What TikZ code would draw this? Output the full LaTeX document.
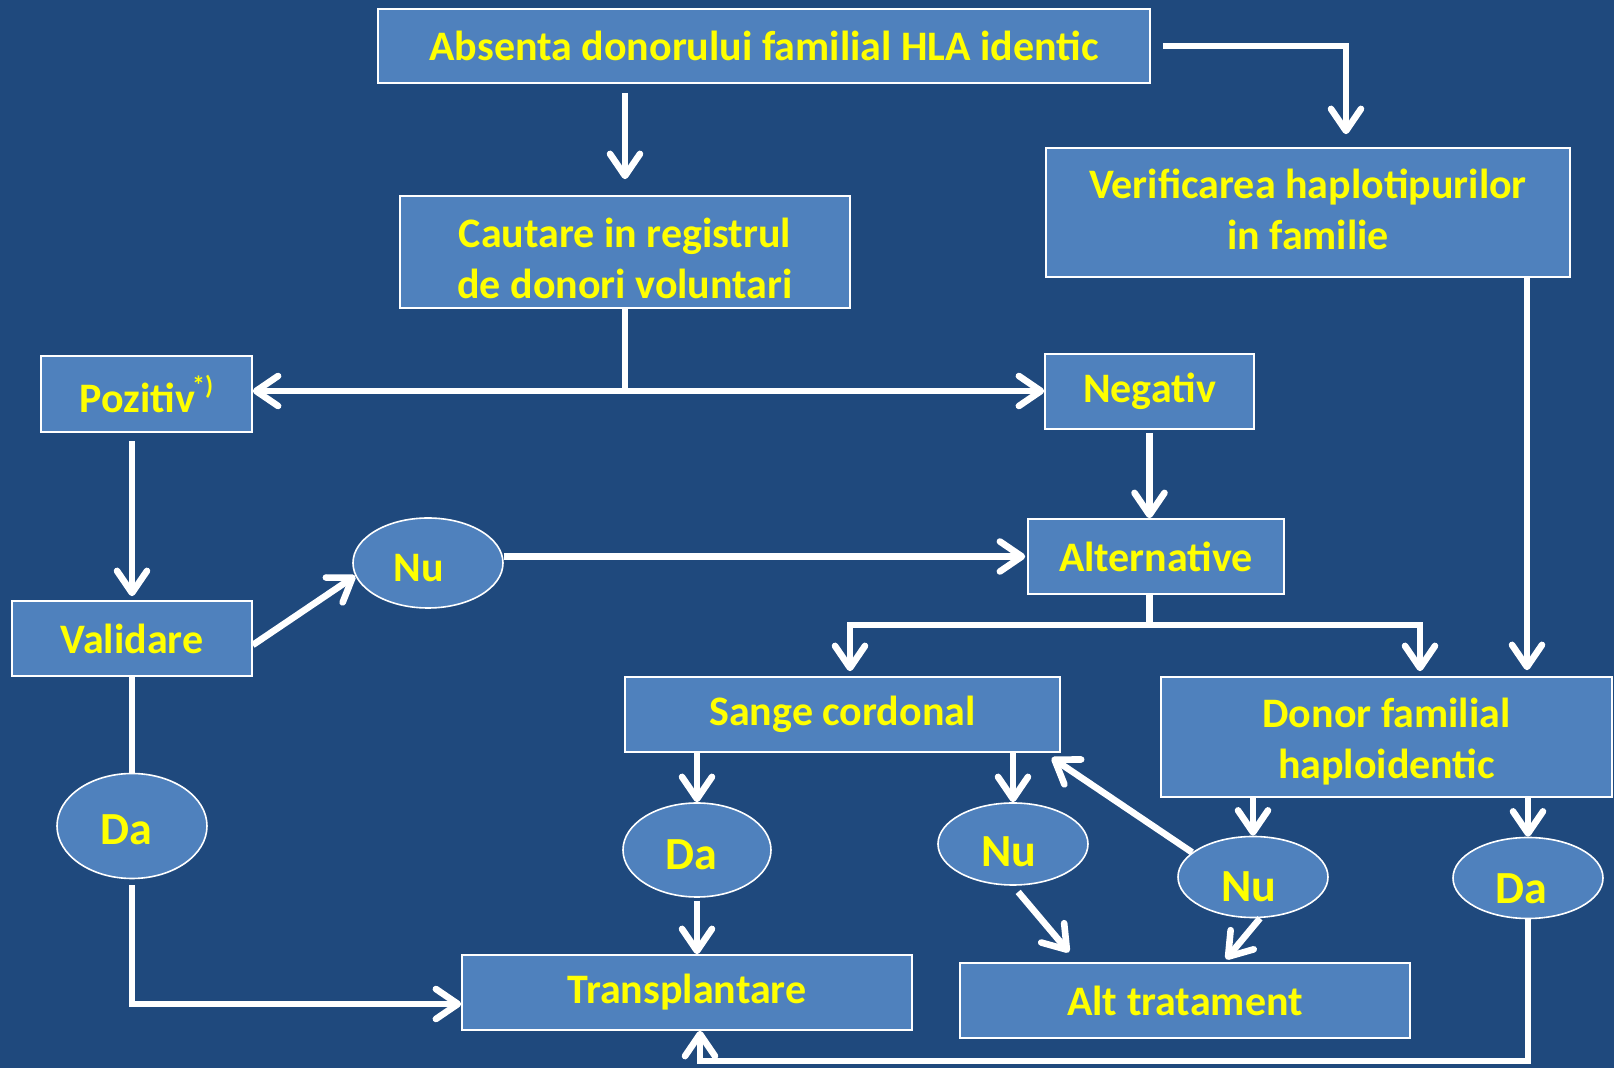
\documentclass[tikz,border=0pt]{standalone}
\usepackage{fontspec}
\setmainfont{Carlito}
\usetikzlibrary{arrows.meta,shapes.geometric}
\definecolor{bg}{HTML}{1F497D}
\definecolor{boxc}{HTML}{4F81BD}
\definecolor{txt}{HTML}{FFFF00}
\begin{document}
\begin{tikzpicture}[x=0.5pt,y=-0.5pt,
  box/.style={draw=white, line width=0.8pt, fill=boxc, text=txt,
    font=\fontsize{21}{25.7}\selectfont\bfseries, align=center, inner sep=0pt},
  oval/.style={ellipse, draw=white, line width=0.8pt, fill=boxc, text=txt,
    font=\fontsize{23}{28}\selectfont\bfseries, inner sep=0pt},
  txtdown/.style={text height=#1, text depth=0pt},
  ln/.style={draw=white, line width=3.3pt},
  arr/.style={ln, -{Straight Barb[length=11pt,width=15pt,round]}}]
\useasboundingbox (0,0) rectangle (1614,1068);
\fill[bg] (0,0) rectangle (1614,1068);

% boxes
\node[box, minimum width=386pt, minimum height=37pt] (abs) at (764,46) {Absenta donorului familial HLA identic};
\node[box, minimum width=225pt, minimum height=56pt] (cau) at (625,252) {\rule{0pt}{21pt}Cautare in registrul\\de donori voluntari};
\node[box, minimum width=262pt, minimum height=64.5pt] (ver) at (1308,212.5) {Verificarea haplotipurilor\\in familie\rule[-3pt]{0pt}{3pt}};
\node[box, minimum width=105.5pt, minimum height=38pt] (poz) at (146.5,394) {Pozitiv\kern-1.5pt\raisebox{0.45em}{\fontsize{13}{13}\selectfont *)}};
\node[box, minimum width=104.5pt, minimum height=37.5pt] (neg) at (1149.5,391.5) {Negativ};
\node[box, minimum width=128pt, minimum height=37.5pt] (alt) at (1156,556.5) {Alternative};
\node[box, minimum width=120pt, minimum height=37.5pt] (val) at (132,638.5) {Validare};
\node[box, minimum width=217.5pt, minimum height=37.5pt] (san) at (842.5,714.5) {Sange cordonal};
\node[box, minimum width=225.5pt, minimum height=60pt] (don) at (1386.5,737) {\rule{0pt}{19.5pt}Donor familial\\haploidentic};
\node[box, minimum width=225pt, minimum height=37.5pt] (tra) at (687,992.5) {Transplantare};
\node[box, minimum width=225pt, minimum height=37.5pt] (atr) at (1185,1000.5) {Alt tratament};

% ovals
\node[oval, minimum width=75pt, minimum height=45pt, font=\fontsize{21}{25}\selectfont\bfseries, txtdown=18.5pt] (nu1) at (428,563) {\kern-9pt Nu};
\node[oval, minimum width=75pt, minimum height=52.5pt, txtdown=18.5pt] (da1) at (132,826) {\kern-6pt Da};
\node[oval, minimum width=74pt, minimum height=47pt, txtdown=20pt] (da2) at (697,850) {\kern-6pt Da};
\node[oval, minimum width=75pt, minimum height=41pt, txtdown=23pt] (nu2) at (1013,844) {\kern-4pt Nu};
\node[oval, minimum width=75pt, minimum height=40.5pt, txtdown=25pt] (nu3) at (1253,877) {\kern-4pt Nu};
\node[oval, minimum width=75pt, minimum height=40.5pt, txtdown=26pt] (da3) at (1528,878) {\kern-7pt Da};

% connectors
\draw[arr, shorten <=4.5pt, shorten >=8pt] (abs.south -| cau.north) -- (cau.north);
\draw[arr, shorten <=6pt, shorten >=6.5pt] (abs.east) -| ([xshift=19pt]ver.north);
\draw[arr, shorten >=3pt] ([xshift=109.5pt]ver.south) -- ([xshift=70.25pt]don.north);

\coordinate (j1) at (625,391);
\draw[ln] (cau.south) -- (j1);
\draw[arr] (j1) -- (j1 -| poz.east);
\draw[arr] (j1) -- (j1 -| neg.west);

\draw[arr, shorten <=4pt, shorten >=2pt] (poz.south -| val.north) -- (val.north);
\draw[arr] ([yshift=-3.25pt]val.east) -- (nu1.190);
\draw[arr, shorten >=1pt] (nu1.east |- alt.west) -- (alt.west);
\draw[arr, shorten <=1.5pt] (neg.south) -- (neg.south |- alt.north);

\coordinate (j2) at (1149.5,625);
\draw[ln] (alt.south -| j2) -- (j2);
\draw[arr, shorten >=2.5pt] (j2) -| ([xshift=3.75pt]san.north);
\draw[arr, shorten >=2.5pt] (j2) -| ([xshift=16.75pt]don.north);

\draw[arr] (san.south -| da2.north) -- (da2.north);
\draw[arr, shorten <=1.5pt] (da2.south) -- (da2.south |- tra.north);
\draw[arr] (san.south -| nu2.north) -- (nu2.north);
\draw[arr, shorten <=4pt] (nu2.south) -- ([xshift=-58pt,yshift=5pt]atr.north);
\draw[arr] (don.south -| nu3.north) -- (nu3.north);
\draw[arr] (nu3.158) -- ([xshift=-4.5pt,yshift=-2.5pt]san.south east);
\draw[arr] ([xshift=3.5pt]nu3.south) -- ([xshift=20.5pt,yshift=1.5pt]atr.north);
\draw[arr] (don.south -| da3.north) -- (da3.north);

\coordinate (j3) at (1528,1061);
\draw[arr] (da3.south) -- (j3) -| ([xshift=6.5pt]tra.south);

\draw[ln] (val.south) -- (da1.north);
\draw[arr, shorten <=3pt] (da1.south) |- ([yshift=-5.75pt]tra.west);
\end{tikzpicture}
\end{document}
